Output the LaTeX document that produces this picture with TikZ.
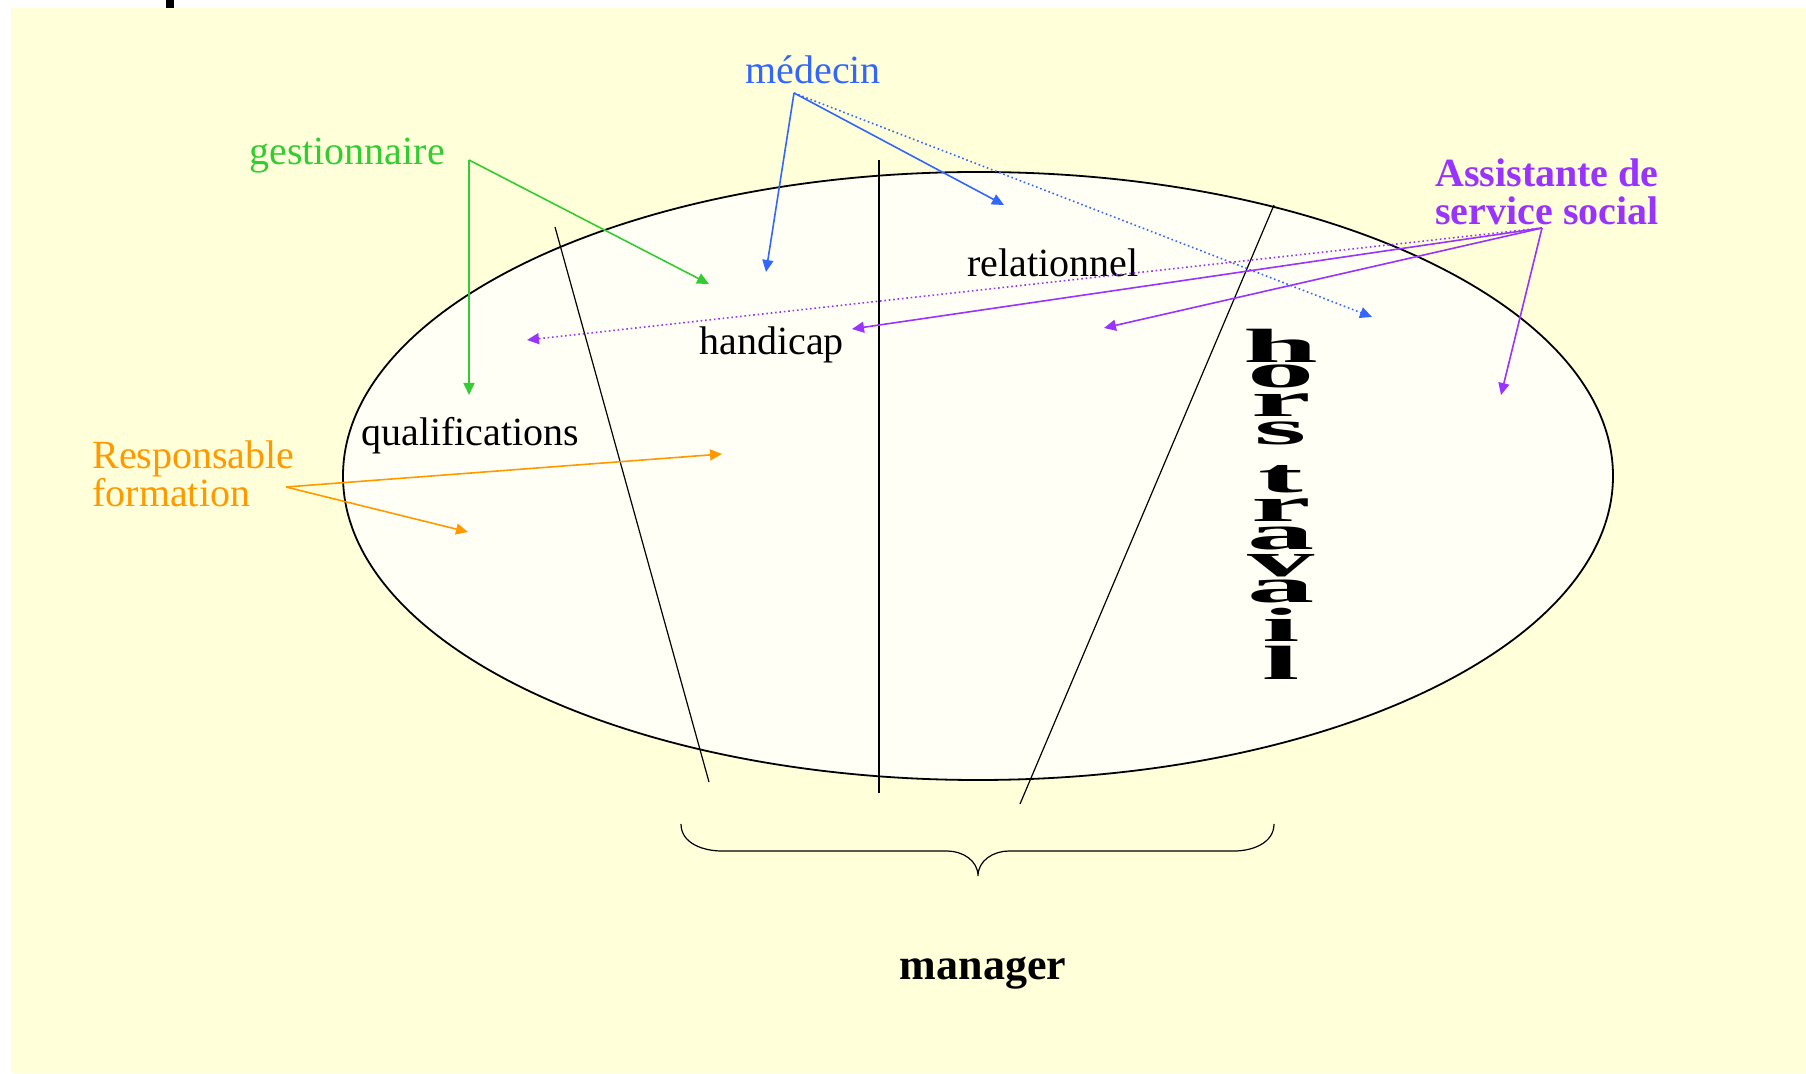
\documentclass[tikz,border=0pt]{standalone}
\usepackage{fontspec}
\usepackage{graphicx}
\setmainfont{Liberation Serif}
\usetikzlibrary{arrows.meta, calc, positioning}
\definecolor{bgyellow}{HTML}{FFFFD9}
\definecolor{eggwhite}{HTML}{FFFFF6}
\definecolor{gestgreen}{HTML}{33CC33}
\definecolor{medblue}{HTML}{3366FF}
\definecolor{asspurple}{HTML}{9933FF}
\definecolor{resporange}{HTML}{FF9900}

\begin{document}
\begin{tikzpicture}[x=0.5pt, y=-0.5pt, >={Triangle[length=6pt, width=5.5pt]},
    lbl/.style={anchor=base west, inner sep=0pt, font=\fontsize{20}{19}\selectfont},
    link/.style={line width=0.8pt},
    dots/.style={line width=0.8pt, dash pattern=on 0.8pt off 1.4pt},
    cut/.style={line width=0.6pt}]
    \useasboundingbox (0,0) rectangle (1806,1074);
    \fill[white] (0,0) rectangle (1806,1074);
    \fill[bgyellow] (11,8) rectangle (1806,1073);
    \fill[black] (166,0) rectangle (174,8);
    % the field
    \draw[line width=0.9pt, fill=eggwhite] (978,476) ellipse [x radius=635, y radius=304];
    \draw[cut] (555,227) -- (709,782);
    \draw[cut] (879,160) -- (879,793);
    \draw[cut] (1274,205) -- (1020,804);
    % labels
    \node[lbl] (qual) at (361,446) {qualifications};
    \node[lbl] (hand) at (699,355) {handicap};
    \node[lbl] (rel) at (967,277) {relationnel};
    \node[lbl, gestgreen] (gest) at (249,165) {gestionnaire};
    \node[lbl, medblue] (med) at (745,84) {médecin};
    \node[lbl, asspurple, font=\fontsize{20}{19}\selectfont\bfseries, align=left] (ass) at (1435,225) {Assistante de\\service social};
    \node[lbl, resporange, align=left] (resp) at (92,507) {Responsable\\formation};
    \node[anchor=base, inner sep=0pt, font=\fontsize{22}{22}\selectfont\bfseries] (man) at (983,979) {manager};
    \foreach \c/\y [count=\i] in {h/363, o/388, r/417, s/445, t/493, r/522, a/550, v/577, a/603, i/642, l/680}
        \node[anchor=base, inner sep=0pt, font=\fontsize{24}{24}\selectfont\bfseries] (ht\i) at (1281,\y) {\scalebox{2.8}[1]{\c}};
    % brace
    \draw[line width=0.6pt] (681,824) to[out=-90, in=180] (722,851) -- (947,851) to[out=0, in=90] (978,876)
        to[out=90, in=180] (1009,851) -- (1234,851) to[out=0, in=-90] (1274,824);
    % who acts where
    \coordinate (gj) at (469,160);
    \coordinate (gq) at (469,395);
    \coordinate (gh) at (709,284);
    \coordinate (mj) at (794,93);
    \coordinate (mh) at (766,272);
    \coordinate (mr) at (1004,205);
    \coordinate (mt) at (1372,317);
    \coordinate (aj) at (1542,228);
    \coordinate (aq) at (527,340);
    \coordinate (ah) at (852,329);
    \coordinate (ar) at (1104,328);
    \coordinate (at) at (1501,395);
    \coordinate (rj) at (286,487);
    \coordinate (rh) at (722,454);
    \coordinate (rq) at (468,532);
    \draw[link, gestgreen]
        (gj) edge[->] (gq)
        (gj) edge[->] (gh);
    \draw[link, medblue]
        (mj) edge[->] (mh)
        (mj) edge[->] (mr);
    \draw[dots, medblue] (mj) edge[->] (mt);
    \draw[link, asspurple]
        (aj) edge[->] (ah)
        (aj) edge[->] (ar)
        (aj) edge[->] (at);
    \draw[dots, asspurple] (aj) edge[->] (aq);
    \draw[link, resporange]
        (rj) edge[->] (rh)
        (rj) edge[->] (rq);
\end{tikzpicture}
\end{document}
